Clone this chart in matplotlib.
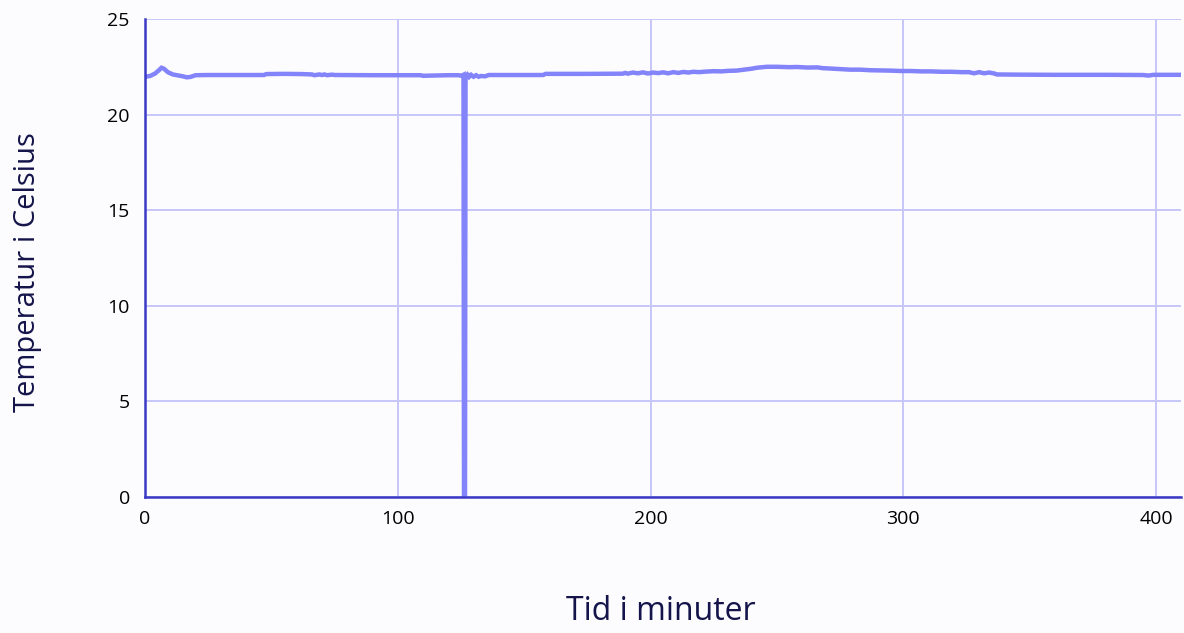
import matplotlib
matplotlib.use('Agg')
import matplotlib.pyplot as plt

# tid (minuter) och temperatur (grader C), avläst från originalet
tid = [0, 2, 4, 5.5, 6.5, 7.5, 9, 11, 13, 15,
       16.5, 18, 20, 25, 35, 47, 48, 55, 62, 66,
       67, 69, 70, 71, 72, 74, 75, 76, 90, 100,
       109, 110, 120, 124, 125.3, 126.0, 126.2, 126.6, 126.8, 127.5,
       128.2, 129, 130, 131, 132, 133, 134.5, 136, 150, 157.5,
       158.5, 175, 189, 190, 191, 193, 195, 197, 199, 201,
       203, 205, 207, 209, 211, 213, 215, 217, 219, 222,
       225, 228, 231, 234, 237, 240, 242, 246, 250, 255,
       258, 262, 266, 268, 271, 275, 279, 283, 287, 291,
       295, 299, 303, 307, 311, 315, 319, 323, 326, 328,
       330, 332, 334, 336, 337, 345, 360, 380, 395, 397,
       399, 402, 410]
temperatur = [21.98, 22.02, 22.15, 22.32, 22.45, 22.4, 22.22, 22.1, 22.05, 22.0,
              21.95, 21.97, 22.06, 22.07, 22.07, 22.07, 22.12, 22.13, 22.12, 22.1,
              22.06, 22.1, 22.07, 22.1, 22.06, 22.09, 22.07, 22.07, 22.06, 22.06,
              22.06, 22.03, 22.06, 22.06, 22.03, 22.08, 0.0, 0.0, 22.02, 22.1,
              21.97, 22.08, 21.98, 22.06, 21.98, 22.02, 22.0, 22.07, 22.07, 22.07,
              22.13, 22.13, 22.14, 22.18, 22.14, 22.2, 22.16, 22.21, 22.15, 22.2,
              22.17, 22.21, 22.16, 22.22, 22.18, 22.23, 22.2, 22.24, 22.22, 22.25,
              22.27, 22.26, 22.29, 22.3, 22.35, 22.4, 22.45, 22.5, 22.5, 22.48,
              22.49, 22.46, 22.47, 22.43, 22.41, 22.38, 22.35, 22.35, 22.32, 22.31,
              22.3, 22.28, 22.28, 22.26, 22.26, 22.24, 22.24, 22.22, 22.22, 22.16,
              22.22, 22.16, 22.2, 22.15, 22.1, 22.09, 22.08, 22.08, 22.07, 22.04,
              22.08, 22.08, 22.08]

plt.rcParams['font.family'] = ['Open Sans', 'DejaVu Sans']

bg = '#fcfcff'
fig = plt.figure(figsize=(11.84, 6.33), dpi=100, facecolor=bg)
ax = fig.add_axes([0.1225, 0.2148, 0.8752, 0.7552], facecolor=bg)

ax.plot(tid, temperatur, color='#8383fa', linewidth=3.2, solid_joinstyle='miter', zorder=3)

ax.set_xlim(0, 410)
ax.set_ylim(0, 25)
ax.set_xticks([0, 100, 200, 300, 400])
ax.set_yticks([0, 5, 10, 15, 20, 25])
ax.grid(True, color='#c6c6fa', linewidth=1.4)
ax.set_axisbelow(True)

for s in ['top', 'right']:
    ax.spines[s].set_visible(False)
for s in ['left', 'bottom']:
    ax.spines[s].set_color('#3a3ac4')
    ax.spines[s].set_linewidth(1.8)
    ax.spines[s].set_zorder(4)

ax.tick_params(length=0, labelsize=14, colors='black', pad=9)
ax.tick_params(axis='y', pad=11)

ax.set_xlabel('Tid i minuter', fontsize=23, color='#14144a', va='center')
ax.set_ylabel('Temperatur i Celsius', fontsize=21, color='#14144a', va='center')
ax.xaxis.set_label_coords(0.498, -0.24)
ax.yaxis.set_label_coords(-0.113, 0.47)

plt.savefig('out.png', dpi=100, facecolor=bg)
